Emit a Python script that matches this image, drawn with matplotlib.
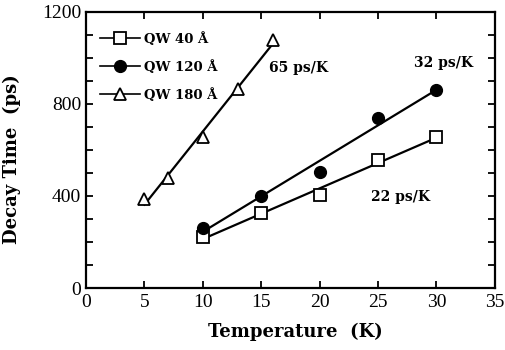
import numpy as np
import matplotlib
matplotlib.use("Agg")
import matplotlib.pyplot as plt
from matplotlib.ticker import MultipleLocator

plt.rcParams['font.family'] = ['Liberation Serif', 'DejaVu Serif']

t40 = [10, 15, 20, 25, 30]
d40 = [223, 325, 404, 556, 658]
t120 = [10, 15, 20, 25, 30]
d120 = [260, 400, 505, 738, 862]
t180 = [5, 7, 10, 13, 16]
d180 = [387, 478, 656, 865, 1080]
labels = ["QW 40 Å", "QW 120 Å", "QW 180 Å"]
slopes = ["22 ps/K", "32 ps/K", "65 ps/K"]

fig = plt.figure(figsize=(5.06, 3.5), dpi=100)
ax = fig.add_axes([0.170, 0.177, 0.808, 0.789])

def fitline(x, y):
    p = np.polyfit(x, y, 1)
    xs = np.array([min(x), max(x)])
    return xs, np.polyval(p, xs)

series = [
    (t40, d40, dict(marker='s', mfc='white', mec='black', ms=9, mew=1.3)),
    (t120, d120, dict(marker='o', mfc='black', mec='black', ms=8.5, mew=1.0)),
    (t180, d180, dict(marker='^', mfc='white', mec='black', ms=9, mew=1.3)),
]
handles = []
for (x, y, st), lab in zip(series, labels):
    xs, ys = fitline(x, y)
    ax.plot(xs, ys, color='black', lw=1.6, zorder=2)
    ax.plot(x, y, ls='none', zorder=3, **st)
    h, = ax.plot([], [], color='black', lw=1.2, label=lab, **st)
    handles.append(h)

bold = dict(family=['DejaVu Serif'], weight='bold')
leg = ax.legend(handles=handles, loc='upper left', frameon=False,
                prop=dict(size=9.5, **bold), handlelength=3.0,
                labelspacing=1.05, handletextpad=0.3,
                bbox_to_anchor=(0.012, 0.96), borderaxespad=0.3)

ax.text(24.4, 395, slopes[0], fontsize=10, va='center', **bold)
ax.text(28.1, 977, slopes[1], fontsize=10, va='center', **bold)
ax.text(15.7, 956, slopes[2], fontsize=10, va='center', **bold)

ax.set_xlim(0, 35)
ax.set_ylim(0, 1200)
ax.xaxis.set_major_locator(MultipleLocator(5))
ax.yaxis.set_major_locator(MultipleLocator(400))
ax.yaxis.set_minor_locator(MultipleLocator(100))
ax.tick_params(which='both', direction='in', top=True, right=True,
               width=1.3, labelsize=14, colors='black')
ax.tick_params(which='major', length=5)
ax.tick_params(which='minor', length=5)
ax.tick_params(axis='x', pad=4)
for s in ax.spines.values():
    s.set_linewidth(1.6)

ax.set_xlabel("Temperature  (K)", fontsize=13, **bold)
ax.set_ylabel("Decay Time  (ps)", fontsize=13, **bold)
ax.xaxis.set_label_coords(0.511, -0.125)
ax.yaxis.set_label_coords(-0.158, 0.467)

fig.savefig("out.png", dpi=100)
